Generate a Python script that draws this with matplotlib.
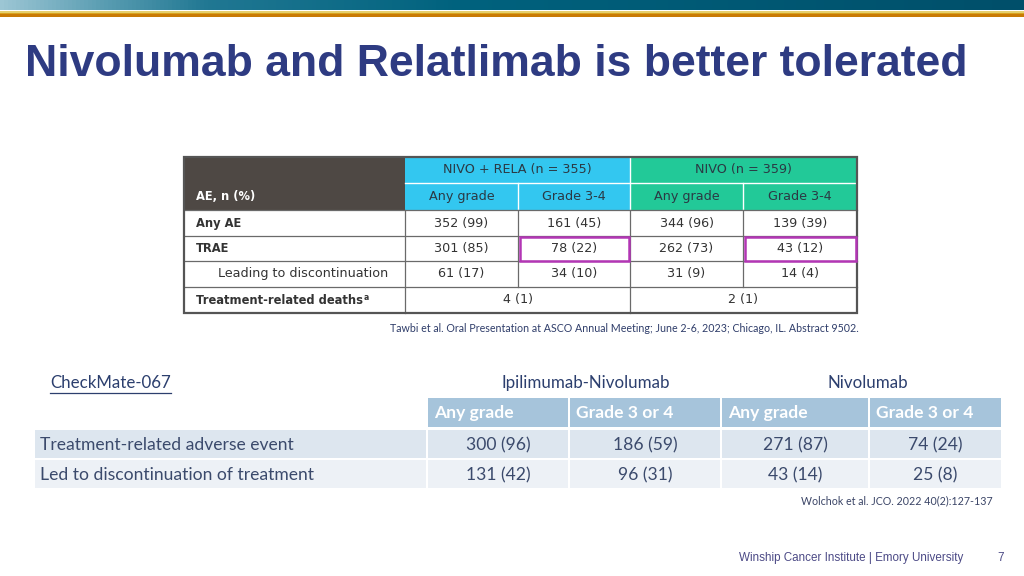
import numpy as np
import matplotlib
matplotlib.use("Agg")
import matplotlib.pyplot as plt
from matplotlib.colors import LinearSegmentedColormap
from matplotlib.patches import Rectangle
from matplotlib import font_manager as fm

# ---------------- data ----------------
title = "Nivolumab and Relatlimab is better tolerated"

top_groups = ["NIVO + RELA (n = 355)", "NIVO (n = 359)"]
top_sub = ["Any grade", "Grade 3-4", "Any grade", "Grade 3-4"]
top_rows = ["Any AE", "TRAE", "Leading to discontinuation", "Treatment-related deaths"]
top_vals = [
    ["352 (99)", "161 (45)", "344 (96)", "139 (39)"],
    ["301 (85)", "78 (22)", "262 (73)", "43 (12)"],
    ["61 (17)", "34 (10)", "31 (9)", "14 (4)"],
]
top_deaths = ["4 (1)", "2 (1)"]
top_cite = "Tawbi et al. Oral Presentation at ASCO Annual Meeting; June 2-6, 2023; Chicago, IL. Abstract 9502."

bot_trial = "CheckMate-067"
bot_groups = ["Ipilimumab-Nivolumab", "Nivolumab"]
bot_sub = ["Any grade", "Grade 3 or 4", "Any grade", "Grade 3 or 4"]
bot_rows = ["Treatment-related adverse event", "Led to discontinuation of treatment"]
bot_vals = [
    ["300 (96)", "186 (59)", "271 (87)", "74 (24)"],
    ["131 (42)", "96 (31)", "43 (14)", "25 (8)"],
]
bot_cite = "Wolchok et al. JCO. 2022 40(2):127-137"
footer = "Winship Cancer Institute | Emory University"
page = "7"

# ---------------- fonts ----------------
avail = {f.name for f in fm.fontManager.ttflist}
body_font = "Lato" if "Lato" in avail else "DejaVu Sans"

fig = plt.figure(figsize=(10.24, 5.76), dpi=100)
ax = fig.add_axes([0, 0, 1, 1])
ax.set_xlim(0, 1024)
ax.set_ylim(576, 0)
ax.axis("off")

# ---------------- banner ----------------
cmap = LinearSegmentedColormap.from_list(
    "ban", [(0, "#9cc6d4"), (0.1, "#5a9db2"), (0.2, "#217893"),
            (0.45, "#00627e"), (1.0, "#004f6a")])
grad = np.linspace(0, 1, 512).reshape(1, -1)
ax.imshow(grad, cmap=cmap, extent=(0, 1024, 10.5, 0), aspect="auto", zorder=1)
ax.add_patch(Rectangle((0, 10.5), 1024, 2, color="#e6cf6e", lw=0, zorder=2))
ax.add_patch(Rectangle((0, 12.5), 1024, 1.5, color="#d7a21e", lw=0, zorder=2))
ax.add_patch(Rectangle((0, 14), 1024, 2.5, color="#c97a04", lw=0, zorder=2))

# ---------------- title ----------------
ax.text(25, 64, title, fontsize=32, fontweight="bold", family="Liberation Sans",
        color="#2e3b82", va="center", ha="left")

# ---------------- upper table ----------------
tx = [184, 405, 518, 630, 743, 857]
ty = [157, 183, 210, 236, 261, 287, 313]
dark = "#4e4844"
cyan = "#33c7f0"
green = "#22c998"
ax.add_patch(Rectangle((tx[0], ty[0]), tx[1] - tx[0], ty[2] - ty[0], color=dark, lw=0, zorder=2))
ax.add_patch(Rectangle((tx[1], ty[0]), tx[3] - tx[1], ty[2] - ty[0], color=cyan, lw=0, zorder=2))
ax.add_patch(Rectangle((tx[3], ty[0]), tx[5] - tx[3], ty[2] - ty[0], color=green, lw=0, zorder=2))
ax.plot([tx[1], tx[5]], [ty[1], ty[1]], color="white", lw=1, zorder=3)
for xv in (tx[2], tx[4]):
    ax.plot([xv, xv], [ty[1], ty[2]], color="white", lw=1, zorder=3)
ax.plot([tx[3], tx[3]], [ty[0], ty[2]], color="white", lw=1, zorder=3)
gl = "#6a6a6a"
for yv in ty[2:6]:
    ax.plot([tx[0], tx[5]], [yv, yv], color=gl, lw=0.9, zorder=3)
for xv in (tx[1], tx[3]):
    ax.plot([xv, xv], [ty[2], ty[6]], color=gl, lw=0.9, zorder=3)
for xv in (tx[2], tx[4]):
    ax.plot([xv, xv], [ty[2], ty[5]], color=gl, lw=0.9, zorder=3)
ax.add_patch(Rectangle((tx[0], ty[0]), tx[5] - tx[0], ty[6] - ty[0], fill=False,
                       ec="#555555", lw=1.6, zorder=4))

tf = "DejaVu Sans"
tcol = "#333333"
hcol = "#2b3944"
fs_r = 9.2
fs_b = 8.3
ax.text(196, (ty[1] + ty[2]) / 2 + 0.5, "AE, n (%)", color="white", fontsize=fs_b,
        fontweight="bold", family=tf, va="center", ha="left", zorder=5)
for i, g in enumerate(top_groups):
    cx = (tx[1 + 2 * i] + tx[3 + 2 * i]) / 2
    ax.text(cx, (ty[0] + ty[1]) / 2, g, color=hcol, fontsize=fs_r, family=tf,
            va="center", ha="center", zorder=5)
for j, s in enumerate(top_sub):
    cx = (tx[1 + j] + tx[2 + j]) / 2
    ax.text(cx, (ty[1] + ty[2]) / 2, s, color=hcol, fontsize=fs_r, family=tf,
            va="center", ha="center", zorder=5)
t = None
for r, lab in enumerate(top_rows):
    cy = (ty[2 + r] + ty[3 + r]) / 2
    if r == 2:
        ax.text(218, cy, lab, color=tcol, fontsize=fs_r, family=tf, va="center", ha="left", zorder=5)
    else:
        tt = ax.text(196, cy, lab, color=tcol, fontsize=fs_b, family=tf, fontweight="bold",
                     va="center", ha="left", zorder=5)
        if r == 3:
            t = tt
    if r < 3:
        for j, v in enumerate(top_vals[r]):
            cx = (tx[1 + j] + tx[2 + j]) / 2
            ax.text(cx, cy, v, color=tcol, fontsize=fs_r, family=tf, va="center",
                    ha="center", zorder=5)
cy = (ty[5] + ty[6]) / 2
for i, v in enumerate(top_deaths):
    ax.text(tx[2 + 2 * i], cy, v, color=tcol, fontsize=fs_r, family=tf, va="center",
            ha="center", zorder=5)
fig.canvas.draw()
bb = t.get_window_extent(fig.canvas.get_renderer())
ax.text(bb.x1 + 1, cy - 3, "a", color=tcol, fontsize=5.5, family=tf, fontweight="bold",
        va="center", ha="left", zorder=5)
mag = "#b336b5"
for j in (1, 3):
    ax.add_patch(Rectangle((tx[1 + j] + 1.5, ty[3] + 0.5), tx[2 + j] - tx[1 + j] - 3, ty[4] - ty[3] - 1,
                           fill=False, ec=mag, lw=1.8, zorder=6))

ax.text(390, 329, top_cite, fontsize=7.7, family=body_font, color="#2f3d6a",
        va="center", ha="left")

# ---------------- lower table ----------------
bx = [35, 427, 569, 721, 869, 1002]
hy = (398, 427)
ry = [(430, 458), (460, 488)]
gap = 1
hdr = "#a6c4db"
rowc = ["#dde6ef", "#edf1f6"]
bcol = "#3b4a6c"
bfs = 12.6
group_cx = [586, 868]

t2 = ax.text(50, 383, bot_trial, fontsize=12.2, family=body_font, color="#2c3f6e",
             va="center", ha="left")
for i, g in enumerate(bot_groups):
    ax.text(group_cx[i], 383, g, fontsize=12.2, family=body_font, color="#2c3f6e",
            va="center", ha="center")
for j, s in enumerate(bot_sub):
    x0, x1 = bx[1 + j] + gap, bx[2 + j] - gap
    ax.add_patch(Rectangle((x0, hy[0]), x1 - x0, hy[1] - hy[0], color=hdr, lw=0, zorder=2))
    ax.text(x0 + 6, (hy[0] + hy[1]) / 2 + 0.5, s, fontsize=bfs, family=body_font,
            fontweight="bold", color="white", va="center", ha="left", zorder=5)
for r, lab in enumerate(bot_rows):
    y0, y1 = ry[r]
    cy = (y0 + y1) / 2
    for j in range(5):
        x0 = bx[j] + (0 if j == 0 else gap)
        x1 = bx[j + 1] - gap
        ax.add_patch(Rectangle((x0, y0), x1 - x0, y1 - y0, color=rowc[r], lw=0, zorder=2))
    ax.text(40, cy + 1, lab, fontsize=bfs, family=body_font, color=bcol, va="center",
            ha="left", zorder=5)
    for j, v in enumerate(bot_vals[r]):
        cx = (bx[1 + j] + bx[2 + j]) / 2
        ax.text(cx, cy + 1, v, fontsize=bfs, family=body_font, color=bcol, va="center",
                ha="center", zorder=5)

ax.text(993, 501, bot_cite, fontsize=7.7, family=body_font, color="#3a4466",
        va="center", ha="right")

fig.canvas.draw()
bb2 = t2.get_window_extent(fig.canvas.get_renderer())
ax.plot([bb2.x0, bb2.x1], [393, 393], color="#2c3f6e", lw=0.9)

# ---------------- footer ----------------
ax.text(963, 558, footer, fontsize=8.4, family="Liberation Sans", color="#4c4a86",
        va="center", ha="right")
ax.text(1004, 558, page, fontsize=8.4, family="Liberation Sans", color="#4c4a86",
        va="center", ha="right")

fig.savefig("out.png", dpi=100, facecolor="white")
